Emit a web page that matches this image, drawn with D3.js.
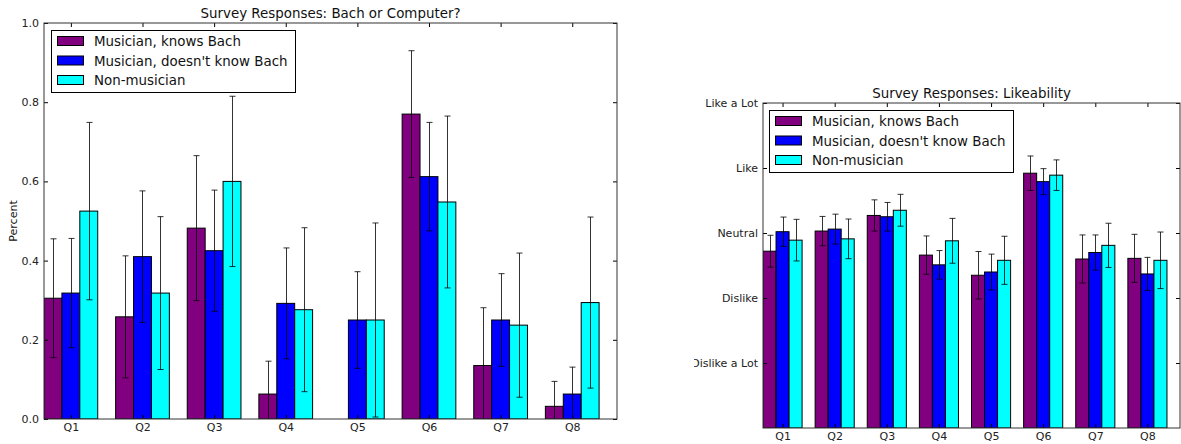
<!DOCTYPE html>
<html>
<head>
<meta charset="utf-8">
<script src="https://cdn.jsdelivr.net/npm/d3@7"></script>
<style>
  body { margin: 0; background: #fff; }
  svg { display: block; font-family: "DejaVu Sans", sans-serif; }
</style>
</head>
<body>
<svg id="chart" width="1181" height="444"></svg>
<script>
// Survey questions and respondent groups
const questions = ["Q1", "Q2", "Q3", "Q4", "Q5", "Q6", "Q7", "Q8"];
const groups = ["Musician, knows Bach", "Musician, doesn't know Bach", "Non-musician"];
const groupColors = ["#800080", "#0000ff", "#00ffff"];

// Share answering "Bach" per group, with error half-widths
const bachKnows      = [0.305, 0.258, 0.482, 0.063, 0.0,   0.770, 0.135, 0.032];
const bachKnowsErr   = [0.150, 0.154, 0.183, 0.083, 0.0,   0.160, 0.146, 0.063];
const bachNoKnow     = [0.318, 0.410, 0.425, 0.292, 0.250, 0.612, 0.250, 0.063];
const bachNoKnowErr  = [0.138, 0.166, 0.153, 0.140, 0.122, 0.137, 0.117, 0.068];
const bachNonMus     = [0.525, 0.318, 0.600, 0.276, 0.250, 0.548, 0.237, 0.294];
const bachNonMusErr  = [0.224, 0.193, 0.215, 0.207, 0.245, 0.217, 0.182, 0.216];

// Mean likeability (1 = Dislike a Lot ... 5 = Like a Lot) with error half-widths
const likeKnows      = [2.72, 3.03, 3.27, 2.66, 2.35, 3.92, 2.60, 2.61];
const likeKnowsErr   = [0.245, 0.225, 0.24, 0.295, 0.365, 0.265, 0.37, 0.37];
const likeNoKnow     = [3.02, 3.06, 3.25, 2.51, 2.40, 3.79, 2.70, 2.37];
const likeNoKnowErr  = [0.225, 0.23, 0.22, 0.22, 0.275, 0.20, 0.27, 0.255];
const likeNonMus     = [2.89, 2.91, 3.35, 2.88, 2.58, 3.89, 2.81, 2.58];
const likeNonMusErr  = [0.32, 0.305, 0.245, 0.345, 0.37, 0.235, 0.34, 0.435];

const percentTicks = [0, 0.2, 0.4, 0.6, 0.8, 1.0];
const likeTicks = [1, 2, 3, 4, 5];
const likeLabels = ["Dislike a Lot", "Dislike", "Neutral", "Like", "Like a Lot"];

const svg = d3.select("#chart");
const barW = 0.25;
const tickFont = 11;
const textFont = 13.4;

function drawPanel(cfg) {
  const { id, box, yDomain, yTicks, yFormat, title, series, errs, legendPos, yLabel, tickClipX } = cfg;
  const x = d3.scaleLinear().domain([0, questions.length]).range([box.x0, box.x1]);
  const y = d3.scaleLinear().domain(yDomain).range([box.y1, box.y0]);
  const g = svg.append("g");

  g.append("clipPath").attr("id", "clip-" + id)
    .append("rect").attr("x", box.x0).attr("y", box.y0)
    .attr("width", box.x1 - box.x0).attr("height", box.y1 - box.y0);

  const plot = g.append("g").attr("clip-path", `url(#clip-${id})`);

  // bars
  series.forEach((vals, j) => {
    plot.append("g").selectAll("rect").data(vals).join("rect")
      .attr("x", (d, i) => x(i + j * barW))
      .attr("width", x(barW) - x(0))
      .attr("y", d => y(d))
      .attr("height", d => y(yDomain[0]) - y(d))
      .attr("fill", groupColors[j])
      .attr("stroke", "#000")
      .attr("stroke-width", 1);
  });

  // error bars
  series.forEach((vals, j) => {
    const eg = plot.append("g").attr("stroke", "#000").attr("stroke-opacity", 0.8).attr("stroke-width", 1);
    vals.forEach((v, i) => {
      const e = errs[j][i];
      if (e === 0) return;
      const cx = Math.round(x(i + j * barW + barW / 2)) + 0.5;
      eg.append("line").attr("x1", cx).attr("x2", cx).attr("y1", y(v + e)).attr("y2", y(v - e));
      [v + e, v - e].forEach(t => {
        eg.append("line").attr("x1", cx - 3).attr("x2", cx + 3).attr("y1", y(t)).attr("y2", y(t));
      });
    });
  });

  // axes with inward ticks on all sides
  const xTickVals = questions.map((q, i) => i + 1.5 * barW);
  const bottom = d3.axisBottom(x).tickValues(xTickVals)
    .tickFormat((d, i) => questions[i]).tickSizeInner(-4).tickSizeOuter(0).tickPadding(4.5);
  const top = d3.axisTop(x).tickValues(xTickVals).tickFormat("").tickSizeInner(-4).tickSizeOuter(0);
  const left = d3.axisLeft(y).tickValues(yTicks).tickFormat(yFormat).tickSizeInner(-4).tickSizeOuter(0).tickPadding(5);
  const right = d3.axisRight(y).tickValues(yTicks).tickFormat("").tickSizeInner(-4).tickSizeOuter(0);

  const ax = [
    g.append("g").attr("transform", `translate(0,${box.y1})`).call(bottom),
    g.append("g").attr("transform", `translate(0,${box.y0})`).call(top),
    g.append("g").attr("transform", `translate(${box.x0},0)`).call(left),
    g.append("g").attr("transform", `translate(${box.x1},0)`).call(right)
  ];
  ax.forEach(a => {
    a.select(".domain").remove();
    a.selectAll("text").attr("font-family", "DejaVu Sans, sans-serif").attr("font-size", tickFont).attr("fill", "#222");
    a.selectAll("line").attr("stroke", "#000");
  });
  if (tickClipX !== undefined) {
    // clip rect lives in the axis group's local (translated) coordinates
    g.append("clipPath").attr("id", "lblclip-" + id)
      .append("rect").attr("x", tickClipX - box.x0).attr("y", 0).attr("width", 1181).attr("height", 444);
    ax[2].attr("clip-path", `url(#lblclip-${id})`);
  }

  // frame
  g.append("rect").attr("x", box.x0).attr("y", box.y0)
    .attr("width", box.x1 - box.x0).attr("height", box.y1 - box.y0)
    .attr("fill", "none").attr("stroke", "#333").attr("stroke-width", 1);

  // title
  g.append("text").attr("x", (box.x0 + box.x1) / 2).attr("y", box.y0 - 5)
    .attr("text-anchor", "middle").attr("font-size", textFont).attr("fill", "#111").text(title);

  if (yLabel) {
    g.append("text").attr("transform", `translate(${box.x0 - 27},${(box.y0 + box.y1) / 2}) rotate(-90)`)
      .attr("text-anchor", "middle").attr("font-size", tickFont).attr("fill", "#111").text(yLabel);
  }

  // legend
  const lg = g.append("g").attr("transform", `translate(${legendPos[0]},${legendPos[1]})`);
  lg.append("rect").attr("x", 0.5).attr("y", 0.5).attr("width", 244).attr("height", 62)
    .attr("fill", "#fff").attr("stroke", "#000").attr("stroke-width", 1);
  groups.forEach((name, j) => {
    const cy = 11 + j * 19.5;
    lg.append("rect").attr("x", 6.5).attr("y", cy - 4.5).attr("width", 26).attr("height", 9)
      .attr("fill", groupColors[j]).attr("stroke", "#000").attr("stroke-width", 1);
    lg.append("text").attr("x", 43).attr("y", cy + 5).attr("font-size", textFont).attr("fill", "#111").text(name);
  });
}

drawPanel({
  id: "bach",
  box: { x0: 44, x1: 617, y0: 23, y1: 419 },
  yDomain: [0, 1],
  yTicks: percentTicks,
  yFormat: d3.format(".1f"),
  title: "Survey Responses: Bach or Computer?",
  series: [bachKnows, bachNoKnow, bachNonMus],
  errs: [bachKnowsErr, bachNoKnowErr, bachNonMusErr],
  legendPos: [51, 30],
  yLabel: "Percent"
});

drawPanel({
  id: "like",
  box: { x0: 763, x1: 1180, y0: 103, y1: 428 },
  yDomain: [0, 5],
  yTicks: likeTicks,
  yFormat: (d, i) => likeLabels[i],
  title: "Survey Responses: Likeability",
  series: [likeKnows, likeNoKnow, likeNonMus],
  errs: [likeKnowsErr, likeNoKnowErr, likeNonMusErr],
  legendPos: [769, 110],
  tickClipX: 694
});
</script>
</body>
</html>
